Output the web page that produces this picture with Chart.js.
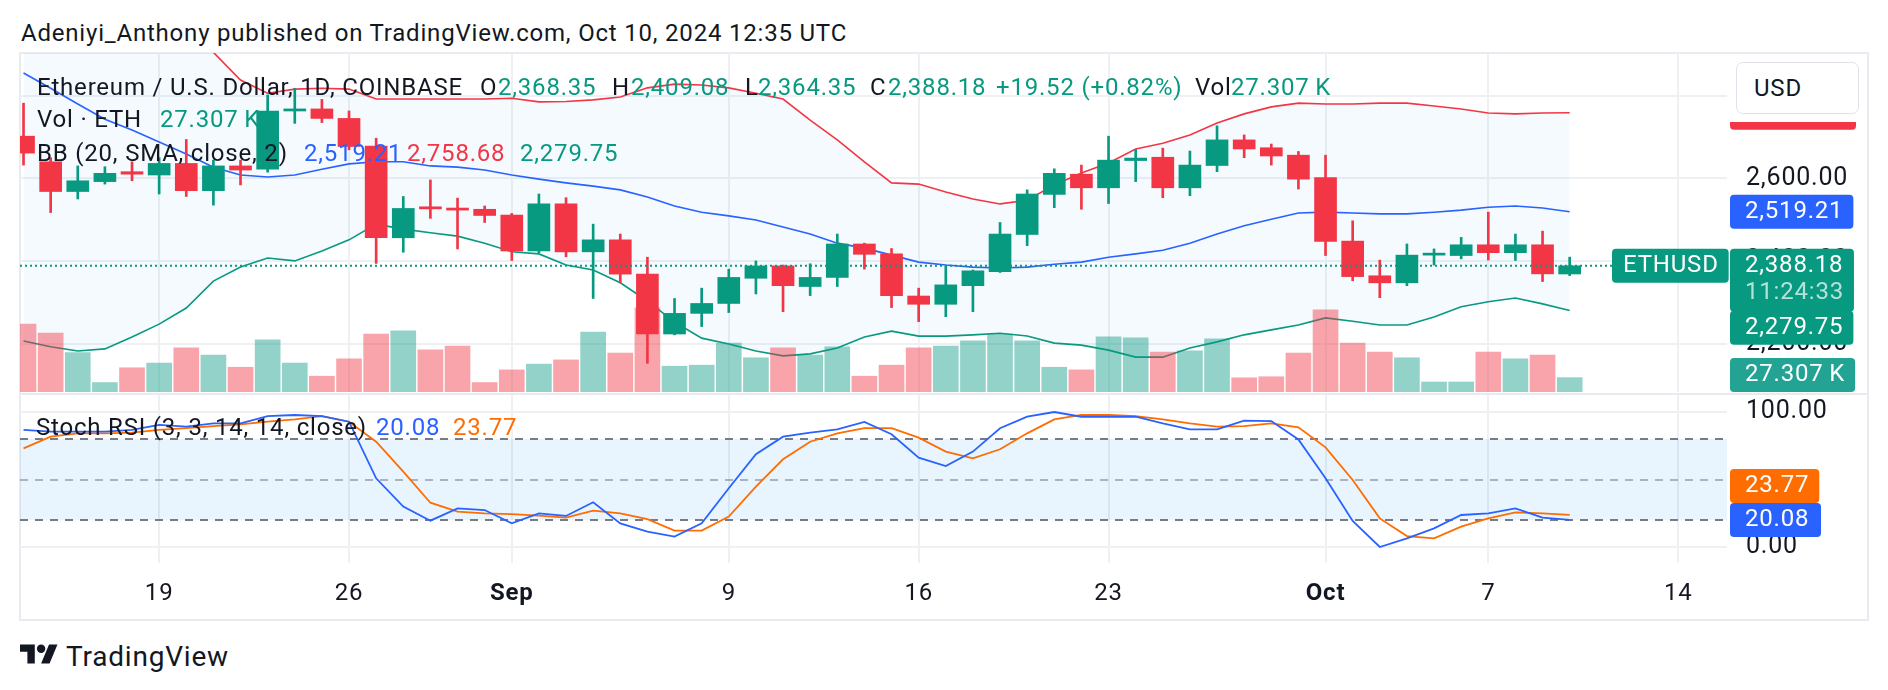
<!DOCTYPE html>
<html>
<head>
<meta charset="utf-8">
<title>ETHUSD 1D</title>
<script src="https://cdn.jsdelivr.net/npm/chart.js@4.4.1/dist/chart.umd.min.js"></script>
<style>
  html, body { margin: 0; padding: 0; background: #fff; }
  body { width: 1888px; height: 690px; position: relative; overflow: hidden;
         font-family: Roboto, "Noto Sans", sans-serif; color: #131722; }
  canvas, .abs { position: absolute; }
  .txt { position: absolute; white-space: nowrap; letter-spacing: 0.8px; }
  #frame { left: 19px; top: 52px; width: 1846px; height: 565px; border: 2px solid #E9EBF0; }
  #sep { left: 20px; top: 393px; width: 1848px; height: 2px; background: #E9EBF0; }
  #usdBack { left: 1729px; top: 55px; width: 138px; height: 67px; background: #fff; }
  #usd { left: 1736px; top: 62px; width: 121px; height: 50px; border: 1px solid #E0E3EB; border-radius: 7px;
         background: #fff; font-size: 24px; line-height: 50px; text-indent: 17px; letter-spacing: 0.8px; }
</style>
</head>
<body>
<div id="frame" class="abs"></div>
<canvas id="mainChart" width="1848" height="339" style="left:20px;top:53px"></canvas>
<div id="sep" class="abs"></div>
<canvas id="stochChart" width="1848" height="225" style="left:20px;top:395px"></canvas>
<div id="usdBack" class="abs"></div>
<div id="usd" class="abs">USD</div>
<svg class="abs" style="left:20px;top:640px" width="38" height="30" viewBox="0 0 36 28">
  <path d="M14 22H7V11H0V4h14v18zM28 22h-8l7.5-18h8L28 22z" fill="#131722"/>
  <circle cx="20" cy="8" r="4" fill="#131722"/>
</svg>
<script>
console.log("chart ETHUSD");

// Daily candles, Aug 14 -> Oct 10 2024 (index 0 = Aug 14)
const opens  = [2702, 2640, 2568, 2592, 2616, 2608, 2636, 2570, 2630, 2622, 2763, 2768, 2745, 2678, 2456, 2531,
                2528, 2525, 2511, 2424, 2538, 2422, 2451, 2368, 2223, 2273, 2297, 2358, 2388, 2338, 2360, 2441,
                2417, 2315, 2295, 2340, 2374, 2464, 2561, 2610, 2577, 2643, 2651, 2577, 2631, 2693, 2674, 2656,
                2602, 2448, 2364, 2347, 2414, 2413, 2439, 2420, 2439, 2368.35];
const highs  = [2782, 2650, 2630, 2628, 2640, 2650, 2694, 2644, 2644, 2802, 2818, 2791, 2763, 2697, 2556, 2596,
                2552, 2533, 2515, 2562, 2553, 2489, 2465, 2409, 2309, 2334, 2380, 2400, 2390, 2393, 2465, 2443,
                2430, 2334, 2388, 2378, 2493, 2572, 2623, 2632, 2702, 2670, 2673, 2666, 2727, 2705, 2683, 2665,
                2656, 2497, 2402, 2441, 2429, 2457, 2518, 2465, 2472, 2409.08];
const lows   = [2632, 2517, 2550, 2586, 2594, 2562, 2556, 2535, 2584, 2615, 2733, 2735, 2669, 2394, 2421, 2503,
                2429, 2493, 2401, 2420, 2410, 2309, 2347, 2152, 2221, 2241, 2275, 2320, 2277, 2316, 2338, 2380,
                2287, 2253, 2265, 2277, 2372, 2437, 2529, 2525, 2539, 2592, 2553, 2558, 2616, 2650, 2632, 2574,
                2413, 2352, 2311, 2340, 2390, 2405, 2402, 2401, 2350, 2364.35];
const closes = [2661, 2568, 2594, 2612, 2610, 2636, 2570, 2630, 2620, 2763, 2768, 2745, 2677, 2456, 2527, 2526,
                2523, 2510, 2424, 2538, 2422, 2451, 2368, 2223, 2273, 2297, 2360, 2388, 2340, 2360, 2441, 2416,
                2316, 2295, 2342, 2376, 2465, 2562, 2612, 2577, 2644, 2649, 2577, 2632, 2693, 2671, 2654, 2598,
                2447, 2362, 2347, 2414, 2417, 2439, 2420, 2439, 2368.66, 2388.18];
// volume in thousands of ETH
const volumes = [129, 112, 75, 18, 46, 55, 84, 70, 47, 99, 55, 30, 63, 110, 116, 80,
                 87, 18, 42, 53, 61, 114, 74, 160, 49, 51, 93, 65, 84, 70, 86, 30,
                 51, 84, 87, 97, 110, 97, 47, 42, 105, 103, 76, 78, 101, 27, 29, 74,
                 156, 93, 76, 65, 19, 19, 76, 63, 70, 27.307];

// Bollinger bands (20, 2)
const bbUpper = [3500, 3440, 3380, 3300, 3220, 3130, 3030, 2905, 2838, 2806, 2816, 2818, 2816, 2792, 2792, 2792,
                 2792, 2792, 2794, 2785, 2786, 2790, 2797, 2819, 2828, 2826, 2819, 2806, 2792, 2741, 2693, 2640,
                 2589, 2586, 2567, 2550, 2538, 2547, 2584, 2613, 2637, 2671, 2685, 2705, 2734, 2756, 2773, 2782,
                 2780, 2780, 2782, 2782, 2775, 2768, 2758, 2756, 2758, 2758.68];
const bbBasis = [2855, 2818, 2780, 2743, 2717, 2688, 2659, 2627, 2608, 2603, 2608, 2622, 2635, 2640, 2640, 2630,
                 2627, 2620, 2608, 2598, 2589, 2581, 2572, 2555, 2533, 2518, 2509, 2499, 2482, 2465, 2443, 2431,
                 2414, 2397, 2390, 2385, 2383, 2385, 2392, 2397, 2409, 2417, 2426, 2443, 2465, 2485, 2501, 2516,
                 2518, 2516, 2514, 2514, 2518, 2523, 2530, 2533, 2528, 2519.21];
const bbLower = [2206, 2192, 2182, 2187, 2216, 2247, 2286, 2351, 2385, 2407, 2400, 2424, 2451, 2489, 2477, 2468,
                 2460, 2443, 2422, 2417, 2390, 2378, 2347, 2303, 2252, 2213, 2199, 2182, 2170, 2175, 2189, 2216,
                 2230, 2218, 2218, 2221, 2225, 2218, 2201, 2196, 2184, 2167, 2167, 2189, 2204, 2221, 2233, 2245,
                 2262, 2254, 2245, 2245, 2264, 2289, 2301, 2310, 2296, 2279.75];

// Stoch RSI (3, 3, 14, 14)
const stochK = [86.7, 85.4, 85.4, 85.4, 86.7, 90.4, 89.2, 91.6, 91.6, 97.0, 97.8, 97.0, 92.8, 50.9, 29.9, 19.5,
                28.6, 27.4, 17.5, 24.9, 23.0, 33.1, 17.5, 11.4, 7.7, 17.5, 43.5, 68.7, 81.7, 84.7, 87.2, 92.6,
                83.5, 66.2, 60.0, 70.7, 88.0, 96.5, 100, 96.5, 96.5, 96.5, 91.6, 87.2, 87.2, 93.6, 93.3, 79.7,
                50.9, 19.3, 0, 6.4, 13.8, 23.7, 24.9, 28.6, 21.7, 20.08];
const stochD = [73.1, 81.7, 84.2, 84.2, 84.7, 86.7, 88.0, 89.6, 90.9, 92.8, 94.5, 97.0, 92.8, 78.0, 55.8, 32.8,
                26.2, 24.9, 24.4, 23.2, 21.7, 26.9, 24.9, 20.7, 12.1, 12.1, 22.5, 44.7, 65.0, 78.0, 84.2, 88.0,
                88.0, 81.0, 70.7, 65.7, 72.4, 84.2, 94.5, 97.8, 97.8, 97.0, 94.5, 91.6, 89.2, 89.6, 91.6, 88.7,
                73.8, 49.6, 21.2, 8.1, 6.4, 15.1, 21.2, 25.7, 24.9, 23.77];

// axis ticks
const ticksX = [5, 12, 18, 26, 33, 40, 48, 54, 61];
const tickLabels = ["19", "26", "Sep", "9", "16", "23", "Oct", "7", "14"];
const boldLabels = ["Sep", "Oct"];
const priceTicks = [2200, 2400, 2600, 2800];
const stochTicks = [0, 100];
const stochLevels = [20, 50, 80];
const countdown = "11:24:33";

const FONT = 'Roboto, "Noto Sans", sans-serif';
const TEXT = "#131722";
const GREEN = "#089981", RED = "#F23645", BLUE = "#2962FF", ORANGE = "#FF6D00";
const GRID = "#EEF0F4";
const VOL_UP = "rgba(8,153,129,0.44)", VOL_DN = "rgba(242,54,69,0.45)";

Chart.defaults.font.family = FONT;

const n = opens.length;
const xs = opens.map((_, i) => i);
const rising = xs.map(i => closes[i] >= opens[i]);
const candleColors = xs.map(i => rising[i] ? GREEN : RED);
const pts = arr => arr.map((v, i) => ({ x: i, y: v }));
const fmt = v => Number(v).toLocaleString("en-US", { minimumFractionDigits: 2, maximumFractionDigits: 2 });
const fmtK = v => v.toFixed(3) + "\u2009K";

// wider text spacing like the tv snapshot
const spacing = { id: "spacing", beforeDraw(chart) { chart.ctx.letterSpacing = "0.8px"; } };

function xAxis(showLabels) {
  return {
    type: "linear", min: -0.13, max: 62.8, offset: false,
    afterBuildTicks: s => { s.ticks = ticksX.map(v => ({ value: v })); },
    grid: { color: GRID, lineWidth: 2, drawTicks: false, offset: false },
    border: { display: false },
    ticks: {
      display: showLabels, padding: 17, color: TEXT, maxRotation: 0, autoSkip: false,
      callback: (v, i) => tickLabels[i],
      font: c => ({ family: FONT, size: 24, weight: boldLabels.includes(tickLabels[c.index]) ? "bold" : "normal" })
    },
    afterFit: s => { s.height = showLabels ? 57 : 0; s.paddingLeft = 0; s.paddingRight = 0; }
  };
}

function yAxis(min, max, ticks) {
  return {
    type: "linear", position: "right", min: min, max: max,
    afterBuildTicks: s => { s.ticks = ticks.map(v => ({ value: v })); },
    grid: { color: GRID, lineWidth: 2, drawTicks: false },
    border: { display: false },
    ticks: { color: TEXT, padding: 19, font: { family: FONT, size: 25 }, callback: v => fmt(v) },
    afterFit: s => { s.width = 141; s.paddingTop = 0; s.paddingBottom = 0; }
  };
}

// price tag on the right axis
function tag(ctx, x, top, minW, h, bg, lines, pad) {
  ctx.save();
  ctx.font = "24px " + FONT;
  const p = pad || 15;
  const tw = Math.max(...lines.map(l => ctx.measureText(l.text).width));
  const w = Math.max(minW, tw + p + 10);
  ctx.fillStyle = bg;
  ctx.beginPath();
  ctx.roundRect(x, top, w, h, 4);
  ctx.fill();
  ctx.textBaseline = "middle";
  ctx.textAlign = "left";
  lines.forEach((l, k) => {
    ctx.fillStyle = l.color;
    ctx.fillText(l.text, x + p, top + 17 + k * 27);
  });
  ctx.restore();
}

const mainOverlay = {
  id: "mainOverlay",
  afterDatasetsDraw(chart) {
    const { ctx, chartArea: a, scales: { y } } = chart;
    const py = y.getPixelForValue(closes[n - 1]);
    ctx.save();
    ctx.strokeStyle = GREEN;
    ctx.lineWidth = 2;
    ctx.setLineDash([2, 3]);
    ctx.beginPath();
    ctx.moveTo(a.left, py);
    ctx.lineTo(a.right, py);
    ctx.stroke();
    ctx.restore();
  },
  afterDraw(chart) {
    const { ctx, chartArea: a, scales: { y, yVol } } = chart;
    const bx = a.right + 3, bw = 122, H = 34, last = n - 1;
    const white = "#fff";
    let cy = y.getPixelForValue(bbUpper[last]);
    tag(ctx, bx, cy - H / 2, 126, H, RED, [{ text: fmt(bbUpper[last]), color: white }]);
    cy = y.getPixelForValue(bbBasis[last]);
    tag(ctx, bx, cy - H / 2, 117, H, BLUE, [{ text: fmt(bbBasis[last]), color: white }]);
    cy = y.getPixelForValue(closes[last]);
    const closeTop = cy - H / 2;
    tag(ctx, bx, closeTop, bw, 63, GREEN, [{ text: fmt(closes[last]), color: white },
                                           { text: countdown, color: "rgba(255,255,255,0.7)" }]);
    tag(ctx, a.right - 115, closeTop, 115, H, GREEN, [{ text: "ETHUSD", color: white }], 11);
    cy = y.getPixelForValue(bbLower[last]);
    let top = Math.max(cy - H / 2, closeTop + 62);
    tag(ctx, bx, top, 123, H, GREEN, [{ text: fmt(bbLower[last]), color: white }]);
    cy = yVol.getPixelForValue(volumes[last]);
    top = Math.min(cy - H / 2, a.bottom - H);
    tag(ctx, bx, top, bw, H, "#22A393", [{ text: fmtK(volumes[last]), color: white }]);
  }
};

new Chart(document.getElementById("mainChart"), {
  type: "line",
  data: {
    datasets: [
      { type: "line", label: "BB upper", data: pts(bbUpper), borderColor: RED, borderWidth: 1.6,
        pointRadius: 0, fill: "+2", backgroundColor: "rgba(33,150,243,0.05)", order: 10 },
      { type: "line", label: "BB basis", data: pts(bbBasis), borderColor: BLUE, borderWidth: 1.6,
        pointRadius: 0, fill: false, order: 10 },
      { type: "line", label: "BB lower", data: pts(bbLower), borderColor: GREEN, borderWidth: 1.6,
        pointRadius: 0, fill: false, order: 10 },
      { type: "bar", label: "Volume", yAxisID: "yVol", data: pts(volumes),
        backgroundColor: xs.map(i => rising[i] ? VOL_UP : VOL_DN),
        barThickness: 25, grouped: false, clip: 0, order: 5 },
      { type: "bar", label: "Wick", data: xs.map(i => ({ x: i, y: [lows[i], highs[i]] })),
        backgroundColor: candleColors, barThickness: 2, grouped: false, clip: 0, order: 2 },
      { type: "bar", label: "Body", data: xs.map(i => ({ x: i, y: [opens[i], closes[i]] })),
        backgroundColor: candleColors, barThickness: 22, minBarLength: 2, grouped: false, clip: 0, order: 1 }
    ]
  },
  options: {
    responsive: false, animation: false, events: [],
    layout: { padding: 0 },
    plugins: { legend: { display: false }, tooltip: { enabled: false }, filler: { drawTime: "beforeDatasetsDraw" } },
    scales: {
      x: xAxis(false),
      y: yAxis(2082.6, 2903.4, priceTicks),
      yVol: { type: "linear", display: false, min: 0, max: 644 }
    }
  },
  plugins: [spacing, mainOverlay]
});

const stochOverlay = {
  id: "stochOverlay",
  beforeDatasetsDraw(chart) {
    const { ctx, chartArea: a, scales: { y } } = chart;
    const yHi = y.getPixelForValue(stochLevels[2]), yLo = y.getPixelForValue(stochLevels[0]);
    ctx.save();
    ctx.fillStyle = "rgba(33,150,243,0.1)";
    ctx.fillRect(a.left, yHi, a.right - a.left, yLo - yHi);
    ctx.lineWidth = 2;
    ctx.setLineDash([8, 7]);
    stochLevels.forEach((lv, k) => {
      ctx.strokeStyle = k === 1 ? "rgba(120,123,134,0.55)" : "#787B86";
      const py = Math.round(y.getPixelForValue(lv));
      ctx.beginPath();
      ctx.moveTo(a.left, py);
      ctx.lineTo(a.right, py);
      ctx.stroke();
    });
    ctx.restore();
  },
  afterDraw(chart) {
    const { ctx, chartArea: a, scales: { y } } = chart;
    const bx = a.right + 3, H = 34, last = n - 1;
    const kTop = y.getPixelForValue(stochK[last]) - H / 2;
    const dTop = Math.min(y.getPixelForValue(stochD[last]) - H / 2, kTop - H);
    tag(ctx, bx, dTop, 87, H, ORANGE, [{ text: fmt(stochD[last]), color: "#fff" }]);
    tag(ctx, bx, kTop, 91, H, BLUE, [{ text: fmt(stochK[last]), color: "#fff" }]);
  }
};

new Chart(document.getElementById("stochChart"), {
  type: "line",
  data: {
    datasets: [
      { label: "%K", data: pts(stochK), borderColor: BLUE, borderWidth: 1.8, pointRadius: 0, fill: false },
      { label: "%D", data: pts(stochD), borderColor: ORANGE, borderWidth: 1.8, pointRadius: 0, fill: false }
    ]
  },
  options: {
    responsive: false, animation: false, events: [],
    layout: { padding: 0 },
    plugins: { legend: { display: false }, tooltip: { enabled: false } },
    scales: {
      x: xAxis(true),
      y: yAxis(-11.85, 112.6, stochTicks)
    }
  },
  plugins: [spacing, stochOverlay]
});

// legend / header texts
function addText(txt, x, cy, color, size, weight) {
  const d = document.createElement("div");
  const fs = size || 24;
  d.className = "txt";
  d.textContent = txt;
  d.style.left = x + "px";
  d.style.top = (cy - 0.486 * fs) + "px";
  d.style.fontSize = fs + "px";
  d.style.lineHeight = fs + "px";
  d.style.color = color || TEXT;
  d.style.fontWeight = weight || 400;
  document.body.appendChild(d);
}

const last = n - 1;
const change = closes[last] - closes[last - 1];
const pct = change / closes[last - 1] * 100;

addText("Adeniyi_Anthony published on TradingView.com, Oct 10, 2024 12:35 UTC", 21, 33);

addText("Ethereum / U.S. Dollar, 1D, COINBASE", 37, 86.5);
addText("O", 480, 86.5); addText(fmt(opens[last]), 498, 86.5, GREEN);
addText("H", 612, 86.5); addText(fmt(highs[last]), 631, 86.5, GREEN);
addText("L", 745, 86.5); addText(fmt(lows[last]), 758, 86.5, GREEN);
addText("C", 870, 86.5); addText(fmt(closes[last]), 888, 86.5, GREEN);
addText("+" + change.toFixed(2) + " (+" + pct.toFixed(2) + "%)", 996, 86.5, GREEN);
addText("Vol", 1195, 86.5); addText(fmtK(volumes[last]), 1231, 86.5, GREEN);

addText("Vol \u00B7 ETH", 37, 119); addText(fmtK(volumes[last]), 160, 119, GREEN);

addText("BB (20, SMA, close, 2)", 37, 153);
addText(fmt(bbBasis[last]), 304, 153, BLUE);
addText(fmt(bbUpper[last]), 407, 153, RED);
addText(fmt(bbLower[last]), 520, 153, GREEN);

addText("Stoch RSI (3, 3, 14, 14, close)", 36, 427);
addText(fmt(stochK[last]), 376, 427, BLUE);
addText(fmt(stochD[last]), 453, 427, ORANGE);

addText("TradingView", 66, 657, TEXT, 28);
</script>
</body>
</html>
